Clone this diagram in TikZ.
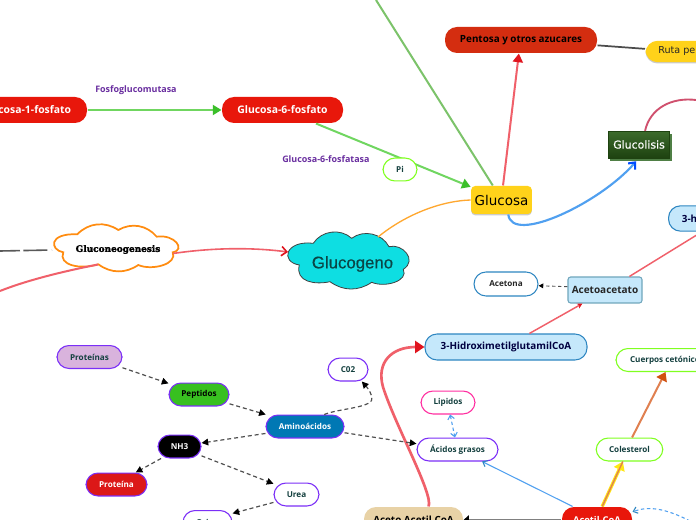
\documentclass[tikz,border=0pt]{standalone}
\usepackage{fontspec}
\setmainfont{Open Sans}
\newfontfamily\dvs{DejaVu Sans}
\newfontfamily\dvsb{DejaVu Sans}[FakeBold=0.4]
\newfontfamily\dvserif{DejaVu Serif}[BoldFeatures={FakeBold=2}]
\newfontfamily\lib{Liberation Sans}[FakeBold=0.6]
\usetikzlibrary{arrows.meta,shadows}
\definecolor{mred}{HTML}{E8170B}
\definecolor{mpent}{HTML}{D42D10}
\definecolor{myel}{HTML}{FFD21A}
\definecolor{mlblue}{HTML}{C5E8FB}
\definecolor{mlbord}{HTML}{2E86C1}
\definecolor{mpurp}{HTML}{7B2FF7}
\definecolor{mtxt}{HTML}{14403F}
\definecolor{mlgreen}{HTML}{80FF20}
\definecolor{mlink}{HTML}{F0606A}
\definecolor{mlabel}{HTML}{6A2FA0}
\definecolor{mblue}{HTML}{50A0F0}
\definecolor{mdash}{HTML}{505050}
\definecolor{mtopg}{HTML}{7CC36A}
\definecolor{mg6}{HTML}{70D660}
\definecolor{mgtip}{HTML}{3BBF2A}
\definecolor{mgdk}{HTML}{1E4210}
\definecolor{mgup}{HTML}{3C6B2C}
\definecolor{mgsh}{HTML}{4F7F45}
\definecolor{mrose}{HTML}{D0506E}
\definecolor{mora}{HTML}{FFA830}
\definecolor{mtip}{HTML}{E0141E}
\definecolor{mtan}{HTML}{E8D2A6}
\definecolor{mamino}{HTML}{0078B4}
\definecolor{mpept}{HTML}{38C020}
\definecolor{mlila}{HTML}{D9B3DD}
\definecolor{mprot}{HTML}{DC1818}
\definecolor{mcyan}{HTML}{0EDEE2}
\definecolor{mcgt}{HTML}{0A4646}
\definecolor{mcol}{HTML}{E08050}
\definecolor{mcoltip}{HTML}{D0500F}
\definecolor{myl2}{HTML}{FFE714}
\definecolor{mpink}{HTML}{FF2FA0}
\definecolor{mgneo}{HTML}{FF8C10}
\tikzset{
  x=0.75pt,y=-0.75pt,
  box/.style={rectangle,rounded corners=9pt,inner sep=0pt,align=center,line width=0.8pt},
  small/.style={font=\fontsize{6.1}{7}\bfseries\selectfont,text=mtxt},
  mid/.style={font=\fontsize{7.8}{9}\bfseries\selectfont},
  pill/.style={box,small,minimum height=17.2pt},
  purpill/.style={pill,draw=mpurp,fill=white},
  greenpill/.style={pill,draw=mlgreen,fill=white},
  red6/.style={box,mid,fill=mred,text=white,minimum height=19.5pt},
  lab/.style={font=\fontsize{6.7}{8}\bfseries\selectfont,text=mlabel,inner sep=0pt},
  shad/.style={drop shadow={shadow xshift=0pt,shadow yshift=-1pt,fill=black!40,opacity=.5}},
  dashlink/.style={mdash,line width=0.9pt,dash pattern=on 3pt off 2.2pt,-{Triangle[black,length=5pt,width=5pt,sep=0pt]}},
  pinklink/.style={mlink,line width=1.5pt},
  redtip/.style={-{Triangle[color=mtip,length=6.5pt,width=7.5pt]}},
  thinblue/.style={mblue,line width=0.8pt},
  gneofont/.style={font=\dvserif\fontsize{6.7}{8}\bfseries\selectfont,text=black,inner sep=0pt},
  gcgfont/.style={font=\lib\fontsize{12.6}{14}\selectfont,text=mcgt,inner sep=0pt},
}
\begin{document}
\begin{tikzpicture}
\clip (0,0) rectangle (696,520);
\fill[white] (0,0) rectangle (696,520);
% free ends
\coordinate (topend) at (376,0);
\coordinate (gluRight) at (696,100);
\coordinate (leftA) at (0,251);
\coordinate (leftB) at (0,291);
\coordinate (blueEnd) at (690,521);
\coordinate (gnE) at (173,253.5);
\coordinate (gnW) at (52,250);
\coordinate (gnS) at (98,264.5);
\coordinate (cgW) at (288,252);
\coordinate (cgN) at (378,237);
% clouds
\path[fill=white,draw=mgneo,line width=1.3pt] (77.3,234.3) to[bend left=40] (118.3,230) to[bend left=40] (156.7,236.7) .. controls (175,234) and (186,250) .. (172.7,252.3) .. controls (178,264) and (152,271) .. (138.3,265) to[bend left=35] (98.3,264.3) .. controls (80,270) and (58,265) .. (63.3,252.3) .. controls (50,250) and (48,233) .. cycle;
\path[fill=mcyan,draw=black!75,line width=0.6pt] (313.3,243.3) to[bend left=50] (351.7,238.3) to[bend left=50] (389,246.7) .. controls (402,243) and (418,260) .. (403.3,269.3) .. controls (409,281) and (385,288) .. (371.7,282.3) to[bend left=35] (330,281.7) .. controls (315,285) and (295,282) .. (299.3,265) .. controls (280,262) and (285,240) .. cycle;
\node[gcgfont] (glucogeno) at (352.5,264) {Glucogeno};
\node[gneofont] (gneo) at (118,249.5) {Gluconeogenesis};
% nodes
\node[red6,minimum width=91.5pt] (g1p) at (26,110) {Glucosa-1-fosfato};
\node[red6,minimum width=90.75pt] (g6p) at (282.5,110) {Glucosa-6-fosfato};
\node[lab,anchor=west] (fgm) at (95,90) {Fosfoglucomutasa};
\node[lab,anchor=west] (g6pa) at (282,159) {Glucosa-6-fosfatasa};
\node[box,shad,fill=myel,rounded corners=3pt,minimum width=45.5pt,minimum height=21pt,
      font=\dvs\fontsize{10.1}{12}\selectfont] (glucosa) at (501.5,200) {Glucosa};
\node[box,font=\fontsize{7.4}{9}\bfseries\selectfont,fill=mpent,text=black,minimum width=114pt,minimum height=19.5pt] (pentosa) at (521,40) {Pentosa y otros azucares};
\node[box,shad,fill=myel,anchor=west,minimum width=75pt,minimum height=16pt,
      font=\dvs\fontsize{7.2}{9}\selectfont,text=black!85] (ruta) at (645,51.5) {\hspace{-28pt}Ruta pe};
\node[rectangle,fill=mgsh,minimum width=46.1pt,minimum height=20.2pt,inner sep=0pt] (glshadow) at (641.2,147.5) {};
\node[rectangle,draw=mgdk,top color=mgup,bottom color=mgdk,
      minimum width=46pt,minimum height=20pt,inner sep=0pt,
      font=\dvsb\fontsize{8.2}{10}\selectfont,text=white] (glucolisis) at (639,144.5) {Glucolisis};
\node[box,draw=mlbord,fill=mlblue,anchor=west,minimum width=60pt,minimum height=19pt,
      font=\fontsize{7.4}{10}\bfseries\selectfont,text=black!75!blue] (h3) at (668,218.5) {\hspace{-28.5pt}3-h};
\node[box,draw=cyan!60!black!70,fill=mlblue,rounded corners=2pt,minimum width=55.5pt,minimum height=19.5pt,
      font=\fontsize{7.5}{10}\bfseries\selectfont,text=black!85] (aceto) at (605,290) {Acetoacetato};
\node[pill,draw=mlbord,fill=white,minimum width=48pt,minimum height=18pt,text=black!85] (acetona) at (506,284) {Acetona};
\node[box,draw=mlbord,fill=mlblue,minimum width=121.5pt,minimum height=19.5pt,
      font=\fontsize{7.4}{10}\bfseries\selectfont,text=black!75!blue] (hmg) at (506,347) {3-HidroximetilglutamilCoA};
\node[greenpill,minimum width=76.5pt] (cuerpos) at (667,360) {Cuerpos cetónicos};
\node[greenpill,minimum width=50pt] (coles) at (629.5,449.5) {Colesterol};
\node[pill,draw=mpink,fill=white,minimum width=40.5pt] (lipidos) at (448,402.5) {Lipidos};
\node[purpill,minimum width=60.75pt] (acidos) at (457.5,449.5) {Ácidos grasos};
\node[box,fill=mred,text=white,minimum width=52.5pt,minimum height=19.5pt,font=\fontsize{7}{9}\bfseries\selectfont] (acetil) at (597,520) {Acetil-CoA};
\node[box,fill=mtan,text=black,minimum width=74.25pt,minimum height=19.5pt,font=\fontsize{7.4}{9}\bfseries\selectfont] (acetoacetil) at (413.5,520) {Aceto Acetil CoA};
\node[purpill,minimum width=30pt] (c02) at (348,369.5) {C02};
\node[pill,draw=mpurp,fill=mamino,text=white,minimum width=58.5pt] (amino) at (305,426.5) {Aminoácidos};
\node[pill,draw=mpurp,fill=mpept,text=black,minimum width=45pt] (pept) at (199,394.5) {Peptidos};
\node[pill,draw=mpurp,fill=mlila,minimum width=48.75pt] (prot) at (89.5,357) {Proteínas};
\node[pill,draw=mpurp,fill=black,text=white,minimum width=32.25pt] (nh3) at (179.5,446.5) {NH3};
\node[pill,draw=mpurp,fill=mprot,text=white,minimum width=45.75pt] (prote) at (116.5,484.5) {Proteína};
\node[purpill,minimum width=33.75pt] (urea) at (296.5,494.5) {Urea};
\node[purpill,minimum width=36.75pt] (orina) at (207.5,522) {Orina};
% connectors
\draw[mtopg,line width=1.5pt] (topend) -- (glucosa.121);
\draw[mg6,line width=1.5pt,-{Triangle[color=mgtip,length=6.5pt,width=7.5pt]}] (g1p.east) -- (g6p.west);
\draw[mg6,line width=1.5pt,-{Triangle[color=mgtip,length=6.5pt,width=7.5pt]}] (g6p.-22) -- (glucosa.157);
\node[greenpill,minimum width=25.5pt] (pi) at (400,169.5) {Pi};
\draw[pinklink,redtip] (glucosa.84) -- (pentosa.-99);
\draw[black!70,line width=1.3pt] (pentosa.-4) -- (ruta.177);
\draw[mblue,line width=1.6pt,-{Straight Barb[length=4pt,width=7pt,color=blue!70!cyan]}] (glucosa.-65) .. controls (512,245) and (600,203) .. (glshadow.-110);
\draw[mrose,line width=1.4pt] (glucolisis.66) .. controls (650,108) and (672,97) .. (gluRight);
\draw[mora,line width=1pt] (glucosa.west) .. controls (440,201) and (405,215) .. (cgN);
\draw[mlink,line width=1.2pt,-{Straight Barb[length=4pt,width=7pt,color=mtip]}] (gnE) .. controls (210,248) and (250,247) .. (cgW);
\draw[black!65,line width=1.2pt,dash pattern=on 15pt off 2.5pt on 18pt off 3.5pt on 1pt] (leftA) -- (gnW);
\draw[pinklink] (gnS) .. controls (60,272) and (25,281) .. (leftB);
\draw[mlink,line width=1.1pt] (aceto.29) -- (h3.-116);
\draw[mlink,line width=1.1pt,-{Stealth[mtip,length=4pt,width=4pt]}] (hmg.30.6) -- (aceto.-149.4);
\draw[mdash,line width=0.7pt,dash pattern=on 2.5pt off 2pt,-{Triangle[black,length=3.5pt,width=3.5pt]}] (aceto.175) -- (acetona.-3.6);
\draw[mlink,line width=2pt,-{Triangle[color=mtip,length=7pt,width=9pt]}] (acetoacetil.42) .. controls (434,495) and (395,425) .. (383,387) .. controls (376,362) and (392,347) .. (hmg.west);
\draw[black!50,line width=1.9pt,-{Triangle[black,length=4pt,width=7pt]}] (acetil.west) -- (acetoacetil.east);
\draw[thinblue,-{Straight Barb[length=3pt,width=5pt,color=mlbord]}] (acetil.151.5) -- (acidos.-26);
\draw[myl2,line width=2.5pt,-{Triangle[myl2,length=6.5pt,width=8.5pt]}] (acetil.69) -- (coles.-119.5);
\draw[mcol,line width=1pt] (acetil.69) -- (coles.-119.5);
\draw[mcol,line width=1.5pt,-{Triangle[color=mcoltip,length=6.5pt,width=8.5pt]}] (coles.78) -- (cuerpos.-97);
\draw[thinblue,dash pattern=on 2.5pt off 2pt,-{Straight Barb[length=3pt,width=5pt,color=mlbord]}] (blueEnd) .. controls (665,508) and (648,506) .. (acetil.13);
\draw[thinblue,dash pattern=on 2.5pt off 2pt,{Straight Barb[length=3pt,width=5pt]}-{Straight Barb[length=3pt,width=5pt]}] (lipidos.-80) -- (acidos.102);
\draw[dashlink] (amino.-9.5) -- (acidos.172);
\draw[dashlink] (amino.32) .. controls (340,408) and (375,408) .. (372,397) .. controls (370,390) and (365,385) .. (c02.-41);
\draw[dashlink] (prot.-18) -- (pept.160.6);
\draw[dashlink] (pept.-17.5) -- (amino.163);
\draw[dashlink] (amino.-170.5) -- (nh3.9);
\draw[dashlink] (nh3.-147.5) -- (prote.32);
\draw[dashlink] (nh3.-23.5) -- (urea.155);
\draw[dashlink] (urea.-161) -- (orina.19);
\end{tikzpicture}
\end{document}
